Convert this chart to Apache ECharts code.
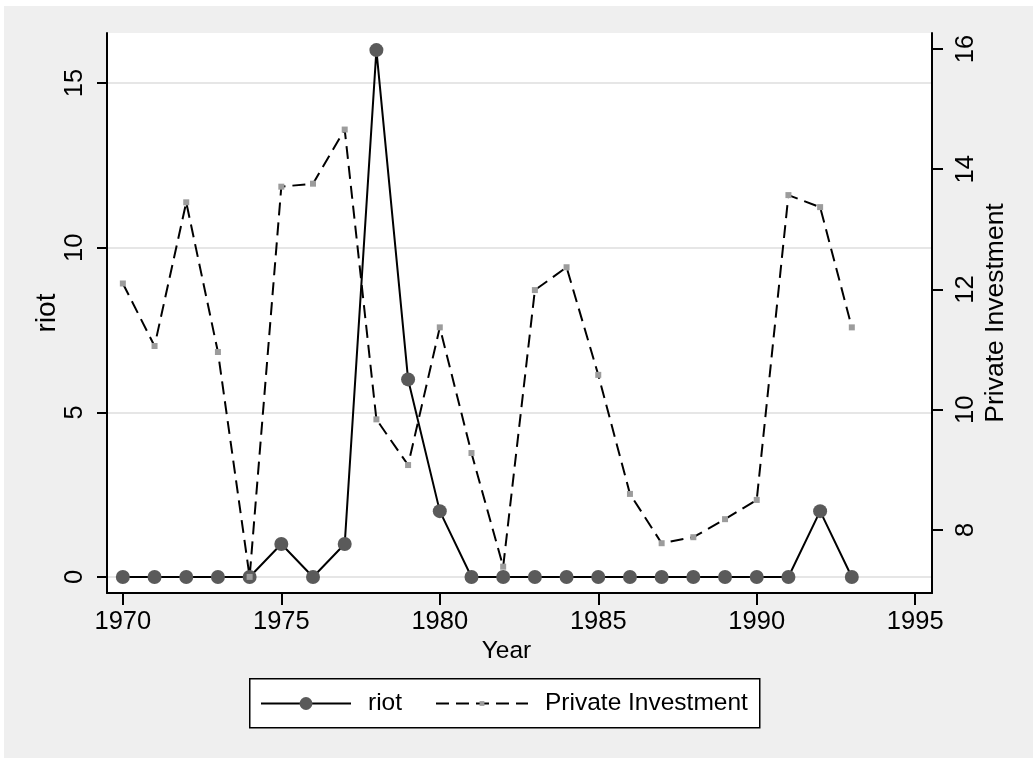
<!DOCTYPE html>
<html>
<head>
<meta charset="utf-8">
<script src="https://cdn.jsdelivr.net/npm/echarts@6/dist/echarts.min.js"></script>
<style>
    html, body { margin: 0; padding: 0; background: #fff; }
    #bg { position: absolute; left: 4px; top: 6px; width: 1029px; height: 752px; background: #efefef; }
    #main { position: absolute; left: 0; top: 0; width: 1033px; height: 758px; }
</style>
</head>
<body>
<div id="bg"></div>
<div id="main"></div>
<script>
var years = [1970, 1971, 1972, 1973, 1974, 1975, 1976, 1977, 1978, 1979, 1980, 1981,
    1982, 1983, 1984, 1985, 1986, 1987, 1988, 1989, 1990, 1991, 1992, 1993];
var riot = [0, 0, 0, 0, 0, 1, 0, 1, 16, 6, 2, 0, 0, 0, 0, 0, 0, 0, 0, 0, 0, 0, 2, 0];
var privateInvestment = [12.10, 11.06, 13.45, 10.96, 7.22, 13.71, 13.76, 14.66, 9.84, 9.08, 11.37, 9.28,
    7.39, 11.99, 12.37, 10.58, 8.60, 7.78, 7.88, 8.18, 8.50, 13.57, 13.37, 11.37];
var yearTicks = [1970, 1975, 1980, 1985, 1990, 1995];
var riotTicks = [0, 5, 10, 15];
var investTicks = [8, 10, 12, 14, 16];

function pairs(xs, ys) {
    return xs.map(function (x, i) { return [x, ys[i]]; });
}
function plain(v) {
    return String(v);
}

var font = 'Liberation Sans, Arial, Helvetica, sans-serif';

function initChart() {
    var chart = echarts.init(document.getElementById('main'));
    var legendText = { fontSize: 24.5, color: '#000', fontFamily: font, padding: [0, 0, 0, 12] };
    var option = {
        backgroundColor: 'transparent',
        animation: false,
        textStyle: { fontFamily: font },
        grid: {
            left: 107,
            right: 101,
            top: 33,
            bottom: 165,
            show: true,
            backgroundColor: '#fff',
            borderWidth: 0
        },
        // legend box border
        graphic: [{
            type: 'rect',
            left: 249,
            top: 678,
            shape: { width: 510, height: 49 },
            style: { fill: '#fff', stroke: '#000', lineWidth: 1.5 },
            z: -1
        }],
        legend: [{
            left: 260,
            top: 691,
            padding: 0,
            itemWidth: 90,
            itemHeight: 16,
            textStyle: legendText,
            data: ['riot']
        }, {
            left: 435,
            top: 691,
            padding: 0,
            itemWidth: 92,
            itemHeight: 6,
            textStyle: legendText,
            data: ['Private Investment']
        }],
        xAxis: {
            type: 'value',
            min: 1969.5,
            max: 1995.53,
            name: 'Year',
            nameLocation: 'middle',
            nameGap: 46,
            nameMoveOverlap: false,
            nameTextStyle: { fontSize: 24.5, color: '#000', padding: [0, 26, 0, 0] },
            axisLine: { show: true, onZero: false, lineStyle: { color: '#000', width: 2 } },
            axisTick: { show: true, length: 12, customValues: yearTicks, lineStyle: { color: '#000', width: 2 } },
            axisLabel: { customValues: yearTicks, formatter: plain, fontSize: 25.5, color: '#000', margin: 16 },
            splitLine: { show: false }
        },
        yAxis: [{
            type: 'value',
            position: 'left',
            min: -0.486,
            max: 16.52,
            name: 'riot',
            nameLocation: 'middle',
            nameRotate: 90,
            nameGap: 46,
            nameMoveOverlap: false,
            nameTextStyle: { fontSize: 28, color: '#000' },
            axisLine: { show: true, onZero: false, lineStyle: { color: '#000', width: 2 } },
            axisTick: { show: true, length: 10, customValues: riotTicks, lineStyle: { color: '#000', width: 2 } },
            axisLabel: { customValues: riotTicks, formatter: plain, rotate: 90, fontSize: 25.5, color: '#000', margin: 19 },
            splitLine: { show: true, lineStyle: { color: '#e6e6e6', width: 2 } }
        }, {
            type: 'value',
            position: 'right',
            min: 6.952,
            max: 16.266,
            name: 'Private Investment',
            nameLocation: 'middle',
            nameRotate: 90,
            nameGap: 50,
            nameMoveOverlap: false,
            nameTextStyle: { fontSize: 26.5, color: '#000' },
            axisLine: { show: true, onZero: false, lineStyle: { color: '#000', width: 2 } },
            axisTick: { show: true, length: 11, customValues: investTicks, lineStyle: { color: '#000', width: 2 } },
            axisLabel: { customValues: investTicks, formatter: plain, rotate: 90, fontSize: 25.5, color: '#000', margin: 21 },
            splitLine: { show: false }
        }],
        series: [{
            name: 'riot',
            type: 'line',
            yAxisIndex: 0,
            symbol: 'circle',
            symbolSize: 14,
            showAllSymbol: true,
            itemStyle: { color: '#5a5a5a', borderWidth: 0 },
            lineStyle: { color: '#000', width: 2 },
            data: pairs(years, riot)
        }, {
            name: 'Private Investment',
            type: 'line',
            yAxisIndex: 1,
            symbol: 'rect',
            symbolSize: 6,
            showAllSymbol: true,
            itemStyle: { color: '#9c9c9c', borderWidth: 0 },
            lineStyle: { color: '#000', width: 2, type: [13, 7] },
            data: pairs(years, privateInvestment)
        }]
    };
    chart.setOption(option);
    return chart;
}

var chart = initChart();
</script>
</body>
</html>
